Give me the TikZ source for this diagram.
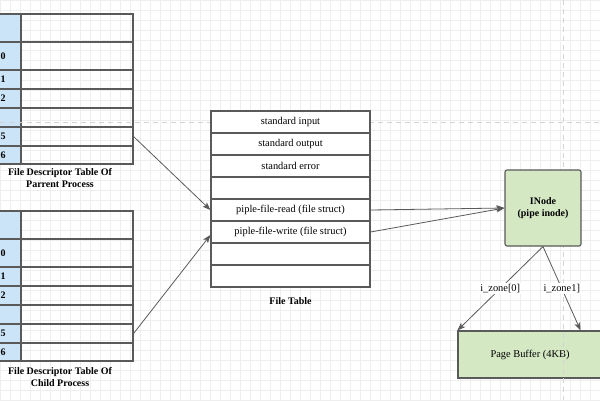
\documentclass[tikz,border=0pt]{standalone}
\usepackage{fontspec}
\setmainfont{Liberation Serif}
\usetikzlibrary{arrows.meta}
\definecolor{fdblue}{RGB}{204,228,247}
\definecolor{inodegreen}{RGB}{213,232,196}
\definecolor{edgegray}{RGB}{90,90,90}
\definecolor{gridgray}{RGB}{238,238,238}
\definecolor{guidegray}{RGB}{212,212,212}
\tikzset{
	fdcell/.style={
		draw = edgegray,
		line width = 1.1pt,
		minimum width = 112pt,
		inner sep = 0pt
	},
	idcell/.style={
		draw = edgegray,
		line width = 1.1pt,
		fill = fdblue,
		minimum width = 32pt,
		inner sep = 0pt
	},
	fdnum/.style={
		anchor = west,
		inner sep = 0pt,
		font = \bfseries
	},
	ftcell/.style={
		draw = edgegray,
		line width = 1.1pt,
		fill = white,
		minimum width = 159pt,
		minimum height = 22pt,
		inner sep = 0pt
	},
	caption/.style={
		align = center,
		font = \bfseries,
		inner sep = 0pt
	},
	greenbox/.style={
		draw = edgegray,
		line width = 1.1pt,
		fill = inodegreen,
		rounded corners = 2pt,
		align = center
	},
	link/.style={
		draw = edgegray,
		line width = 0.8pt,
		-{Stealth[length=8pt,width=6pt,inset=2pt]}
	},
	zonelabel/.style={
		fill = white,
		inner sep = 1pt
	},
}

\begin{document}
\begin{tikzpicture}[x=1pt, y=-1pt, font=\fontsize{10.4}{12.5}\selectfont]
    \useasboundingbox (0,0) rectangle (600,400);
    \fill[white] (0,0) rectangle (600,400);
    \draw[gridgray, line width=0.4pt] (0,0) grid[step=10pt] (600,400);

    % descriptor tables of parent and child
    \foreach \tab/\dy in {p/0, c/197}{
      \foreach \n/\t/\b/\l in {h/14/42/, 0/42/70/0, 1/70/89/1, 2/89/108/2, 3/108/127/, 5/127/146/5, 6/146/164/6}{
        \pgfmathsetmacro\mid{(\t+\b)/2+\dy}
        \pgfmathsetmacro\hgt{\b-\t}
        \node[idcell, minimum height=\hgt pt] (\tab id\n) at (5,\mid) {};
        \node[fdcell, minimum height=\hgt pt] (\tab\n) at (77,\mid) {};
        \node[fdnum] (\tab num\n) at (0.5,\mid) {\l};
      }
    }
    \node[caption] (pcap) at (60,178.5) {File Descriptor Table Of\\Parrent Process};
    \node[caption] (ccap) at (60,377.5) {File Descriptor Table Of\\Child Process};

    \node[greenbox, minimum width=144pt, minimum height=47pt, rounded corners=0pt] (buf) at (530,354.5) {Page Buffer (4KB)};

    % editor guides
    \draw[guidegray, line width=1pt, dash pattern=on 5pt off 4pt] (0,122) -- (600,122);
    \draw[guidegray, line width=1pt, dash pattern=on 5pt off 4pt] (563,0) -- (563,400);

    % file table
    \foreach \i/\txt in {1/standard input, 2/standard output, 3/standard error, 4/,
      5/piple-file-read (file struct), 6/piple-file-write (file struct), 7/, 8/}{
      \node[ftcell] (ft\i) at (290.5,{100+22*\i}) {\txt};
    }
    \node[caption] (ftcap) at (290.5,301) {File Table};

    \node[greenbox, minimum width=76pt, minimum height=76pt, font=\bfseries] (inode) at (543,208) {INode\\(pipe inode)};

    \draw[link] (p5.east) -- (ft5.west);
    \draw[link] (c5.east) -- ([yshift=-3pt]ft6.west);
    \draw[link] (ft5.east) -- (inode.west);
    \draw[link] (ft6.east) -- (inode.west);
    \draw[link] (inode.south) -- node[zonelabel] (z0) {i\_zone[0]} (buf.north west);
    \draw[link] (inode.south) -- node[zonelabel] (z1) {i\_zone1]} ([xshift=-22pt]buf.north east);
  \end{tikzpicture}
\end{document}
